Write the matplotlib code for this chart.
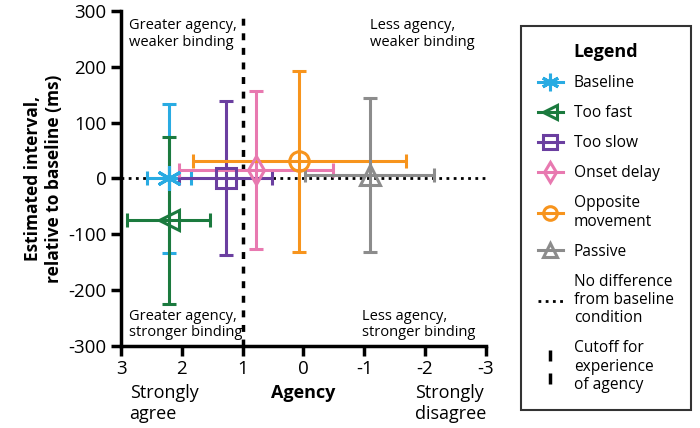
import matplotlib
matplotlib.use('Agg')
import matplotlib.pyplot as plt
from matplotlib.lines import Line2D
from matplotlib.path import Path

plt.rcParams['font.family'] = ['Open Sans', 'DejaVu Sans']

conditions = ['Baseline', 'Too fast', 'Too slow', 'Onset delay', 'Opposite\nmovement', 'Passive']
agency = [2.21, 2.22, 1.28, 0.78, 0.07, -1.09]
agency_err = [0.36, 0.69, 0.76, 1.27, 1.75, 1.06]
interval = [0, -75, 0, 15, 31, 7]
interval_err = [133, 150, 138, 142, 162, 138]
colors = ['#29abe2', '#1b7a3e', '#6b3fa0', '#e879b0', '#f7941d', '#8c8c8c']
markers = [(6, 2, 0), '<', 's', 'd', 'o', '^']
msizes = [18, 14, 14, 14, 14, 14]

xticks = [3, 2, 1, 0, -1, -2, -3]
yticks = [300, 200, 100, 0, -100, -200, -300]

fig = plt.figure(figsize=(7, 4.28), dpi=100)
ax = fig.add_axes([0.173, 0.192, 0.521, 0.782])

ax.plot([3, -3], [0, 0], color='black', linestyle=(0, (1, 1.6)), linewidth=2, zorder=1)
ax.plot([1, 1], [-300, 300], color='black', linestyle=(0, (2, 2.2)), linewidth=2.5, zorder=1)

for x, xe, y, ye, c, m, ms in zip(agency, agency_err, interval, interval_err, colors, markers, msizes):
    ax.errorbar(x, y, xerr=xe, yerr=ye, color=c, marker=m, markersize=ms,
                markerfacecolor='none', markeredgewidth=2.2, elinewidth=2.2,
                capsize=5, capthick=2.2, zorder=3)

ax.set_xlim(3, -3)
ax.set_ylim(-300, 300)
ax.set_xticks(xticks)
ax.set_xticklabels([str(t) for t in xticks])
ax.set_yticks(yticks)
ax.set_yticklabels([str(t) for t in yticks])
ax.tick_params(axis='both', width=2.5, length=7, labelsize=13.5, direction='out')
for s in ['top', 'right']:
    ax.spines[s].set_visible(False)
for s in ['left', 'bottom']:
    ax.spines[s].set_linewidth(2.5)

ax.text(2.87, 287, 'Greater agency,\nweaker binding', fontsize=10.5, va='top', ha='left', linespacing=1.15)
ax.text(-1.1, 287, 'Less agency,\nweaker binding', fontsize=10.5, va='top', ha='left', linespacing=1.15)
ax.text(2.87, -290, 'Greater agency,\nstronger binding', fontsize=10.5, va='bottom', ha='left', linespacing=1.15)
ax.text(-0.97, -290, 'Less agency,\nstronger binding', fontsize=10.5, va='bottom', ha='left', linespacing=1.15)

ax.set_ylabel('Estimated interval,\nrelative to baseline (ms)', fontsize=12.5, fontweight='bold', labelpad=4)
ax.text(0.0, -368, 'Agency', fontsize=13, fontweight='bold', ha='center', va='top')
ax.text(2.86, -368, 'Strongly\nagree', fontsize=13, ha='left', va='top', linespacing=1.2)
ax.text(-1.84, -368, 'Strongly\ndisagree', fontsize=13, ha='left', va='top', linespacing=1.2)

handles = []
for c, m, ms in zip(colors, markers, msizes):
    handles.append(Line2D([], [], color=c, marker=m, markersize=ms * 0.7, markerfacecolor='none',
                          markeredgewidth=2.2, linewidth=2.2))
handles.append(Line2D([], [], color='black', linestyle=(0, (1, 1.6)), linewidth=2))
cut = Path([(0, -1), (0, -0.35), (0, 0.35), (0, 1)],
           [Path.MOVETO, Path.LINETO, Path.MOVETO, Path.LINETO])
handles.append(Line2D([], [], color='black', linestyle='None', marker=cut, markersize=24,
                      markeredgewidth=2.5))
labels = conditions + ['No difference\nfrom baseline\ncondition', 'Cutoff for\nexperience\nof agency']

leg = fig.legend(handles, labels, loc='upper left', bbox_to_anchor=(0.733, 0.957),
                 title='Legend', title_fontproperties={'weight': 'bold', 'size': 13},
                 fontsize=11.2, fancybox=False, edgecolor='black', handlelength=1.6,
                 labelspacing=0.9, borderpad=1.1, handletextpad=0.7)
leg.get_frame().set_linewidth(1.5)

fig.savefig('out.png', dpi=100)
